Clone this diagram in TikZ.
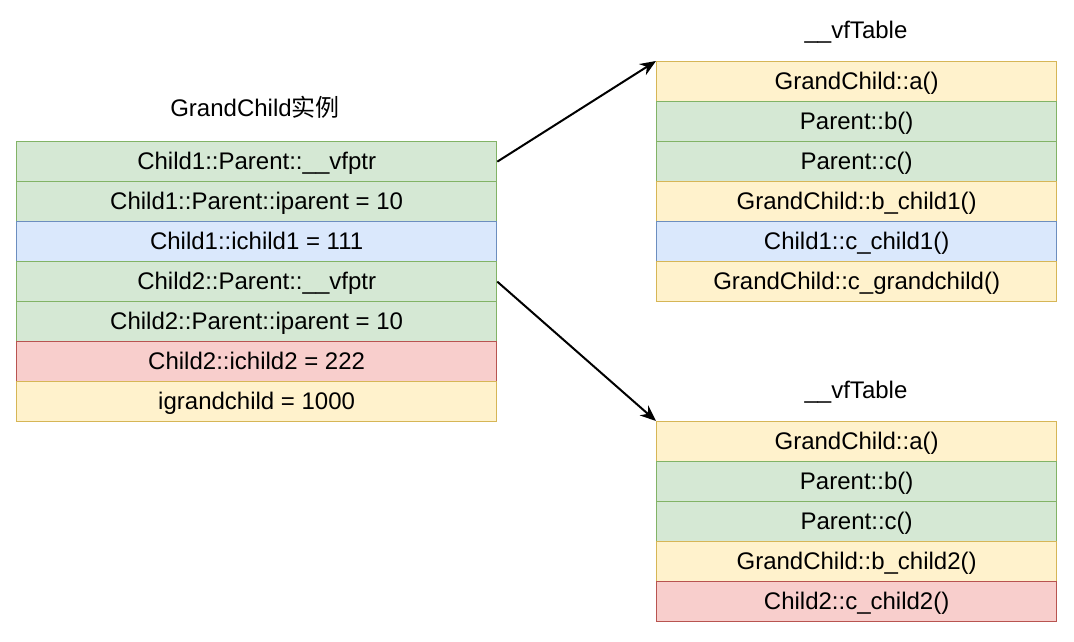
\documentclass[tikz,border=0pt]{standalone}
\usepackage{fontspec}
\setmainfont{Liberation Sans}
\newfontfamily\cjk{Noto Sans CJK SC}
\usetikzlibrary{arrows.meta}
\definecolor{gfill}{HTML}{D5E8D4}\definecolor{gdraw}{HTML}{82B366}
\definecolor{bfill}{HTML}{DAE8FC}\definecolor{bdraw}{HTML}{6C8EBF}
\definecolor{rfill}{HTML}{F8CECC}\definecolor{rdraw}{HTML}{B85450}
\definecolor{yfill}{HTML}{FFF2CC}\definecolor{ydraw}{HTML}{D6B656}
\begin{document}
\begin{tikzpicture}[x=1pt,y=-1pt,
  cell/.style={draw,line width=1.3pt,rectangle,anchor=north west,inner sep=0pt,
    minimum height=40pt,text height=20pt,text depth=4pt,font=\fontsize{24}{28}\selectfont},
  lcell/.style={cell,minimum width=480pt},
  rcell/.style={cell,minimum width=400pt},
  green/.style={fill=gfill,draw=gdraw},
  blue/.style={fill=bfill,draw=bdraw},
  red/.style={fill=rfill,draw=rdraw},
  yellow/.style={fill=yfill,draw=ydraw},
  title/.style={font=\fontsize{24}{28}\selectfont,inner sep=0pt,anchor=base},
  arr/.style={line width=2pt,-{Stealth[length=16pt,width=13pt]}}]
\useasboundingbox (0,0) rectangle (1074,642);
% left table
\node[title] (lt) at (255,117) {GrandChild{\cjk 实例}};
\node[lcell,green] (r1) at (16,141) {Child1::Parent::\_\_vfptr};
\node[lcell,green] (r2) at (16,181) {Child1::Parent::iparent = 10};
\node[lcell,blue] (r3) at (16,221) {Child1::ichild1 = 111};
\node[lcell,green] (r4) at (16,261) {Child2::Parent::\_\_vfptr};
\node[lcell,green] (r5) at (16,301) {Child2::Parent::iparent = 10};
\node[lcell,red] (r6) at (16,341) {Child2::ichild2 = 222};
\node[lcell,yellow] (r7) at (16,381) {igrandchild = 1000};
% top right table
\node[title] (at) at (856,38.5) {\_\_vfTable};
\node[rcell,yellow] (a1) at (656,61) {GrandChild::a()};
\node[rcell,green] (a2) at (656,101) {Parent::b()};
\node[rcell,green] (a3) at (656,141) {Parent::c()};
\node[rcell,yellow] (a4) at (656,181) {GrandChild::b\_child1()};
\node[rcell,blue] (a5) at (656,221) {Child1::c\_child1()};
\node[rcell,yellow] (a6) at (656,261) {GrandChild::c\_grandchild()};
% bottom right table
\node[title] (bt) at (856,398.5) {\_\_vfTable};
\node[rcell,yellow] (b1) at (656,421) {GrandChild::a()};
\node[rcell,green] (b2) at (656,461) {Parent::b()};
\node[rcell,green] (b3) at (656,501) {Parent::c()};
\node[rcell,yellow] (b4) at (656,541) {GrandChild::b\_child2()};
\node[rcell,red] (b5) at (656,581) {Child2::c\_child2()};
% arrows
\draw[arr] (r1.east) -- (a1.north west);
\draw[arr] (r4.east) -- (b1.north west);
\end{tikzpicture}
\end{document}
